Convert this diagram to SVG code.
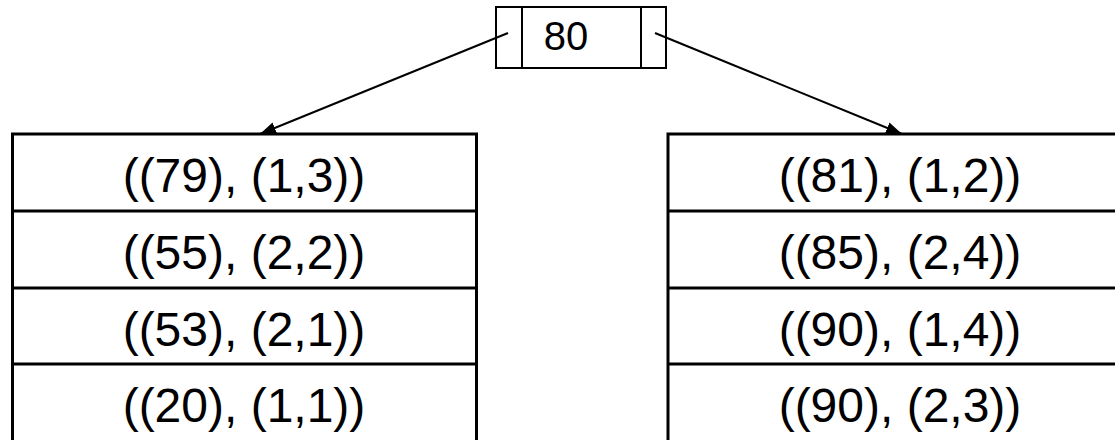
<svg xmlns="http://www.w3.org/2000/svg" width="1115" height="440" viewBox="0 0 1115 440">
<style>
.box{fill:#fff;stroke:#000;stroke-width:3}
.sep{stroke:#000;stroke-width:3}
.nb{fill:#fff;stroke:#000;stroke-width:2}
.nl{stroke:#000;stroke-width:2}
.t{font-family:"Liberation Sans",Arial,sans-serif;font-size:48px;fill:#000;text-anchor:middle}
.t2{font-family:"Liberation Sans",Arial,sans-serif;font-size:40px;fill:#000;text-anchor:middle}
.c{stroke:#000;stroke-width:2;fill:none}
</style>
<defs>
<marker id="ah" markerWidth="16" markerHeight="12" refX="16" refY="6" orient="auto" markerUnits="userSpaceOnUse">
<path d="M0,0 L16,6 L0,12 Z" fill="#000"/>
</marker>
</defs>
<rect width="1115" height="440" fill="#fff"/>
<g id="root">
<rect class="nb" x="496" y="7" width="170" height="61"/>
<line class="nl" x1="522" y1="7" x2="522" y2="68"/>
<line class="nl" x1="641" y1="7" x2="641" y2="68"/>
<text class="t2" x="566" y="50">80</text>
</g>
<g id="left">
<rect class="box" x="12.5" y="134" width="464" height="310"/>
<line class="sep" x1="12.5" y1="211" x2="476.5" y2="211"/>
<line class="sep" x1="12.5" y1="288" x2="476.5" y2="288"/>
<line class="sep" x1="12.5" y1="364" x2="476.5" y2="364"/>
<text class="t" x="244" y="192">((79), (1,3))</text>
<text class="t" x="244" y="269">((55), (2,2))</text>
<text class="t" x="244" y="346">((53), (2,1))</text>
<text class="t" x="244" y="422">((20), (1,1))</text>
</g>
<g id="right">
<rect class="box" x="668" y="134" width="464" height="310"/>
<line class="sep" x1="668" y1="211" x2="1132" y2="211"/>
<line class="sep" x1="668" y1="288" x2="1132" y2="288"/>
<line class="sep" x1="668" y1="364" x2="1132" y2="364"/>
<text class="t" x="900" y="192">((81), (1,2))</text>
<text class="t" x="900" y="269">((85), (2,4))</text>
<text class="t" x="900" y="346">((90), (1,4))</text>
<text class="t" x="900" y="422">((90), (2,3))</text>
</g>
<g id="connectors">
<line class="c" x1="508" y1="33" x2="260" y2="134" marker-end="url(#ah)"/>
<line class="c" x1="655" y1="33" x2="902" y2="134" marker-end="url(#ah)"/>
</g>
</svg>
